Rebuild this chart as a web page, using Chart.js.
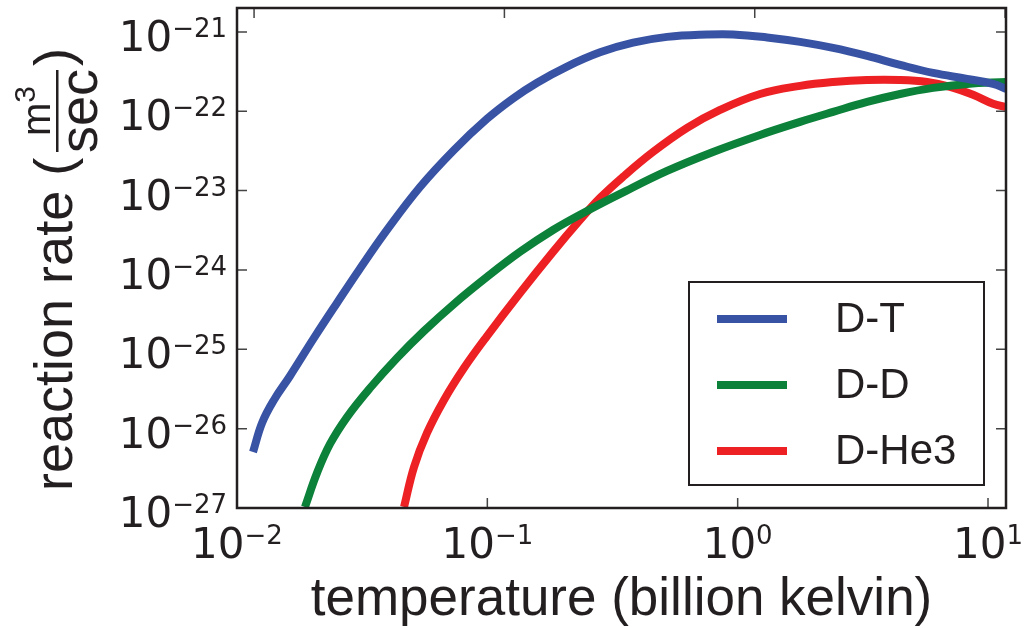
<!DOCTYPE html>
<html>
<head>
<meta charset="utf-8">
<script src="https://cdn.jsdelivr.net/npm/chart.js@4.4.0/dist/chart.umd.min.js"></script>
<style>
  html, body { margin: 0; padding: 0; background: #fff; }
  #wrap { width: 1025px; height: 628px; }
</style>
</head>
<body>
<div id="wrap"><canvas id="myChart" width="1025" height="628"></canvas></div>
<script>
// temperature in billion kelvin, rate in m^3/sec
const dtTemp = [0.01159, 0.01259, 0.01405, 0.01628, 0.02031, 0.02509, 0.03073, 0.03975, 0.05384, 0.07362, 0.09972, 0.1267, 0.1580, 0.2082, 0.2820, 0.3821, 0.5224, 0.7546, 0.9585, 1.311, 1.776, 2.405, 3.289, 4.455, 6.036, 8.252, 10.48, 11.81];
const dtRate = [5.08e-27, 1.18e-26, 2.30e-26, 4.61e-26, 1.39e-25, 3.84e-25, 1.00e-24, 3.19e-24, 1.11e-23, 3.25e-23, 8.03e-23, 1.45e-22, 2.29e-22, 3.66e-22, 5.53e-22, 7.31e-22, 8.65e-22, 9.27e-22, 9.30e-22, 8.52e-22, 7.48e-22, 6.28e-22, 4.98e-22, 3.84e-22, 3.04e-22, 2.56e-22, 2.21e-22, 1.91e-22];

const ddTemp = [0.01869, 0.02087, 0.02353, 0.02751, 0.03400, 0.04357, 0.05586, 0.07362, 0.09972, 0.1351, 0.1830, 0.2502, 0.3390, 0.5224, 0.7973, 1.229, 1.776, 2.405, 3.289, 4.455, 6.036, 8.252, 11.81];
const ddRate = [1.03e-27, 2.76e-27, 6.41e-27, 1.40e-26, 3.25e-26, 7.77e-26, 1.70e-25, 3.73e-25, 8.16e-25, 1.69e-24, 3.19e-24, 5.54e-24, 9.08e-24, 1.77e-23, 3.07e-23, 5.03e-23, 7.34e-23, 9.81e-23, 1.31e-22, 1.65e-22, 1.97e-22, 2.21e-22, 2.34e-22];

const dhTemp = [0.04648, 0.05096, 0.05742, 0.06714, 0.08067, 0.09972, 0.1351, 0.1830, 0.2346, 0.2820, 0.3483, 0.4592, 0.6280, 0.8504, 1.229, 1.776, 2.405, 3.289, 4.455, 5.711, 7.056, 8.719, 10.48, 11.81];
const dhRate = [1.03e-27, 3.29e-27, 8.82e-27, 2.30e-26, 5.81e-26, 1.47e-25, 5.13e-25, 1.69e-24, 4.27e-24, 8.08e-24, 1.49e-23, 3.07e-23, 6.17e-23, 1.04e-22, 1.65e-22, 2.09e-22, 2.34e-22, 2.48e-22, 2.48e-22, 2.34e-22, 2.03e-22, 1.61e-22, 1.24e-22, 1.13e-22];

const seriesNames = ['D-T', 'D-D', 'D-He3'];

const xTicks = [0.01, 0.1, 1, 10];
const xTickExp = ['\u22122', '\u22121', '0', '1'];
const xTopTicks = [0.0117, 0.117, 1.17, 11.7];
const yTicks = [1e-21, 1e-22, 1e-23, 1e-24, 1e-25, 1e-26, 1e-27];
const yTickExp = ['\u221221', '\u221222', '\u221223', '\u221224', '\u221225', '\u221226', '\u221227'];

const FONT = '"Liberation Sans", Arial, sans-serif';
const TICKFONT = '"DejaVu Sans", sans-serif';
const INK = '#231f20';
const colors = ['#3953a4', '#0b8139', '#ed2024'];

function pts(xs, ys) {
  return xs.map((x, i) => ({ x: x, y: ys[i] }));
}

// "10" with a raised exponent
function drawPow(ctx, exp, x, y, align) {
  ctx.font = '42px ' + TICKFONT;
  const wb = ctx.measureText('10').width;
  ctx.font = '26px ' + TICKFONT;
  const we = ctx.measureText(exp).width;
  const total = wb + we;
  let left = align === 'right' ? x - total : x - total / 2;
  ctx.textAlign = 'left';
  ctx.textBaseline = 'alphabetic';
  ctx.font = '42px ' + TICKFONT;
  ctx.fillText('10', left, y);
  ctx.font = '26px ' + TICKFONT;
  ctx.fillText(exp, left + wb, y - 14);
}

const decorations = {
  id: 'decorations',
  afterDraw(chart) {
    const ctx = chart.ctx;
    const a = chart.chartArea;
    const sx = chart.scales.x, sy = chart.scales.y;
    ctx.save();

    // tick marks, pointing inward
    ctx.strokeStyle = '#444';
    ctx.lineWidth = 1.5;
    ctx.beginPath();
    xTicks.forEach(v => {
      const px = sx.getPixelForValue(v);
      ctx.moveTo(px, a.bottom); ctx.lineTo(px, a.bottom - 10);
    });
    xTopTicks.forEach(v => {
      const px = sx.getPixelForValue(v);
      if (px > a.right) return;
      ctx.moveTo(px, a.top); ctx.lineTo(px, a.top + 10);
    });
    yTicks.forEach(v => {
      const py = sy.getPixelForValue(v);
      ctx.moveTo(a.left, py); ctx.lineTo(a.left + 10, py);
      ctx.moveTo(a.right, py); ctx.lineTo(a.right - 10, py);
    });
    ctx.stroke();

    // frame
    ctx.strokeStyle = INK;
    ctx.lineWidth = 2.5;
    ctx.strokeRect(a.left, a.top, a.right - a.left, a.bottom - a.top);

    // tick labels
    ctx.fillStyle = INK;
    yTicks.forEach((v, i) => {
      const py = sy.getPixelForValue(v);
      drawPow(ctx, yTickExp[i], a.left - 10, py + 19, 'right');
    });
    xTicks.forEach((v, i) => {
      const px = sx.getPixelForValue(v);
      drawPow(ctx, xTickExp[i], px, a.bottom + 50, 'center');
    });

    // x title
    ctx.font = '53px ' + FONT;
    ctx.textAlign = 'center';
    ctx.textBaseline = 'alphabetic';
    ctx.fillText('temperature (billion kelvin)', (a.left + a.right) / 2, a.bottom + 107);

    // y title, rotated, with m^3/sec fraction
    ctx.save();
    ctx.translate(74, a.bottom - 20);
    ctx.rotate(-Math.PI / 2);
    ctx.textAlign = 'left';
    ctx.font = '54px ' + FONT;
    ctx.fillText('reaction rate (', -3, -2);
    ctx.fillRect(336, -18, 82, 2.5);
    ctx.font = '40px ' + FONT;
    const wm = ctx.measureText('m').width;
    ctx.font = '30px ' + FONT;
    const w3 = ctx.measureText('3').width;
    const nx = 377 - (wm + w3) / 2;
    ctx.font = '40px ' + FONT;
    ctx.fillText('m', nx, -24);
    ctx.font = '30px ' + FONT;
    ctx.fillText('3', nx + wm, -39);
    ctx.font = '54px ' + FONT;
    ctx.textAlign = 'center';
    ctx.fillText('sec', 377, 23);
    ctx.textAlign = 'left';
    ctx.fillText(')', 422, -2);
    ctx.restore();

    // legend
    const bx = a.right - 22 - 295, by = a.bottom - 23 - 203;
    ctx.fillStyle = '#fff';
    ctx.fillRect(bx, by, 295, 203);
    ctx.strokeStyle = INK;
    ctx.lineWidth = 2;
    ctx.strokeRect(bx, by, 295, 203);
    chart.data.datasets.forEach((ds, i) => {
      const ly = by + 37 + i * 66;
      ctx.strokeStyle = ds.borderColor;
      ctx.lineWidth = 8;
      ctx.beginPath();
      ctx.moveTo(bx + 28, ly); ctx.lineTo(bx + 98, ly);
      ctx.stroke();
      ctx.fillStyle = INK;
      ctx.font = '42px ' + FONT;
      ctx.textAlign = 'left';
      ctx.textBaseline = 'middle';
      ctx.fillText(ds.label, bx + 146, ly + 1);
    });

    ctx.restore();
  }
};

const ctx = document.getElementById('myChart').getContext('2d');
const chart = new Chart(ctx, {
  type: 'line',
  data: {
    datasets: [
      { label: seriesNames[0], data: pts(dtTemp, dtRate), borderColor: colors[0] },
      { label: seriesNames[1], data: pts(ddTemp, ddRate), borderColor: colors[1] },
      { label: seriesNames[2], data: pts(dhTemp, dhRate), borderColor: colors[2] }
    ]
  },
  options: {
    responsive: false,
    animation: false,
    layout: { padding: { left: 237, top: 8, right: 19, bottom: 120 } },
    datasets: {
      line: {
        borderWidth: 8,
        tension: 0.4,
        pointRadius: 0,
        fill: false,
        clip: 0
      }
    },
    scales: {
      x: { type: 'logarithmic', min: 0.01, max: 11.8, display: false },
      y: { type: 'logarithmic', min: 1e-27, max: 2.0e-21, display: false }
    },
    plugins: {
      legend: { display: false },
      tooltip: { enabled: false }
    }
  },
  plugins: [decorations]
});
</script>
</body>
</html>
